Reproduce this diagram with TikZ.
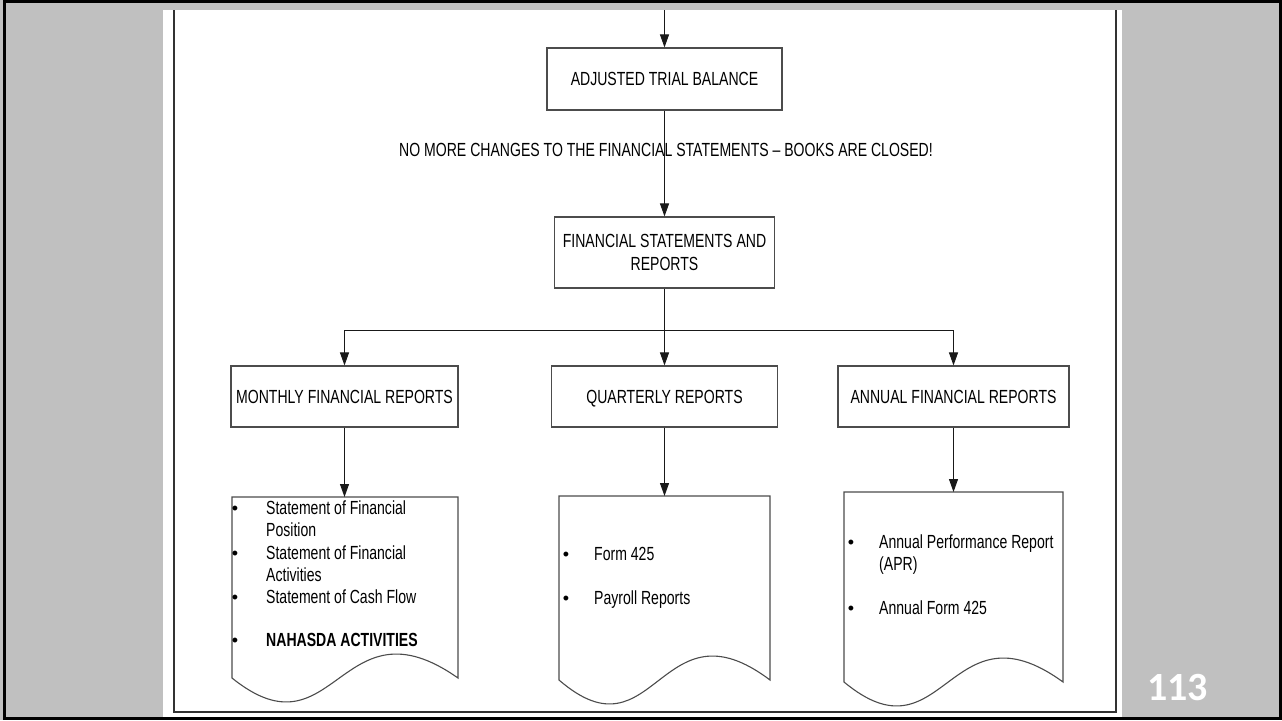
\documentclass[tikz,border=0pt]{standalone}
\usepackage{fontspec}
\usetikzlibrary{arrows.meta}
\newfontfamily\nar[FakeStretch=0.74]{Liberation Sans}
\newfontfamily\pgnumfont{Carlito}
\definecolor{slidegray}{RGB}{192,192,192}
\begin{document}
\begin{tikzpicture}[x=1pt,y=-1pt,
  conn/.style={draw=black!90,line width=1pt},
  arr/.style={conn,-{Triangle[length=13pt,width=9pt]}},
  stepbox/.style={draw=black!70,line width=1.1pt,fill=white,rectangle,inner sep=0pt,
     font=\nar\fontsize{19}{23}\selectfont,align=center},
  oneline/.style={text height=13.6pt,text depth=0pt},
  doc/.style={draw=black!70,line width=1.1pt,fill=white},
  doctext/.style={anchor=base west,inner sep=0pt,font=\nar\fontsize{19}{22}\selectfont,align=left},
  bul/.style={anchor=base,inner sep=0pt,font=\fontspec{Liberation Sans}\fontsize{18}{22}\selectfont},
  lbl/.style={inner sep=0pt,font=\nar\fontsize{19}{22}\selectfont}]
\useasboundingbox (0,0) rectangle (1282,720);
% slide background
\fill[slidegray] (0,0) rectangle (1282,720);
\draw[black,line width=3pt] (4.5,1.5) rectangle (1280.5,718.5);
\fill[white] (163,10) rectangle (1122,717);
\draw[black!80,line width=2pt] (173.5,10) -- (173.5,712) -- (1115.5,712) -- (1115.5,10);
% page number
\node[anchor=base,inner sep=0pt,text=white,font=\pgnumfont\bfseries\fontsize{40}{42}\selectfont] (pg) at (1177.5,700) {113};

% boxes
\node[stepbox,oneline,minimum width=235pt,minimum height=62pt] (atb) at (664.5,79) {ADJUSTED TRIAL BALANCE};
\node[stepbox,minimum width=220pt,minimum height=71pt] (fsr) at (664.5,252.5) {FINANCIAL STATEMENTS AND\\REPORTS};
\node[stepbox,oneline,minimum width=227pt,minimum height=61pt] (mon) at (344.5,396.5) {MONTHLY FINANCIAL REPORTS};
\node[stepbox,oneline,minimum width=226pt,minimum height=61pt] (qua) at (664.5,396.5) {QUARTERLY REPORTS};
\node[stepbox,oneline,minimum width=231pt,minimum height=61pt] (ann) at (953.5,396.5) {ANNUAL FINANCIAL REPORTS};

% documents
\draw[doc] (232,497) -- (458,497) -- (458,678)
  .. controls (340,595) and (335,761) .. (232,678) -- cycle;
\draw[doc] (559,496) -- (770,496) -- (770,680)
  .. controls (660,597) and (655,763) .. (559,680) -- cycle;
\draw[doc] (844,492) -- (1063,492) -- (1063,682)
  .. controls (949,599) and (944,765) .. (844,682) -- cycle;
\coordinate (mdoc) at (344.5,497);
\coordinate (qdoc) at (664.5,496);
\coordinate (adoc) at (953.5,492);

% connectors
\coordinate (top) at (664.5,10);
\coordinate (hl) at (0,330);
\draw[arr] (top) -- (atb.north);
\draw[arr] (atb.south) -- (fsr.north);
\draw[arr] (fsr.south) -- (qua.north);
\draw[arr] (fsr.south |- hl) -| (mon.north);
\draw[arr] (fsr.south |- hl) -| (ann.north);
\draw[arr] (mon.south) -- (mdoc);
\draw[arr] (qua.south) -- (qdoc);
\draw[arr] (ann.south) -- (adoc);

% note across the connector
\node[lbl] (note) at (666,150) {NO MORE CHANGES TO THE FINANCIAL STATEMENTS – BOOKS ARE CLOSED!};

% monthly doc text (base anchor = baseline of last line)
\node[bul] (mb1) at (235,514) {•};
\node[doctext] (mt1) at (266,536) {Statement of Financial\\Position};
\node[bul] (mb2) at (235,559) {•};
\node[doctext] (mt2) at (266,581) {Statement of Financial\\Activities};
\node[bul] (mb3) at (235,603) {•};
\node[doctext] (mt3) at (266,603) {Statement of Cash Flow};
\node[bul] (mb4) at (235,646) {•};
\node[doctext] (mt4) at (266,646) {\bfseries NAHASDA ACTIVITIES};

% quarterly doc text
\node[bul] (qb1) at (566,560) {•};
\node[doctext] (qt1) at (594,560) {Form 425};
\node[bul] (qb2) at (566,604) {•};
\node[doctext] (qt2) at (594,604) {Payroll Reports};

% annual doc text
\node[bul] (ab1) at (851,548) {•};
\node[doctext] (at1) at (879,570) {Annual Performance Report\\(APR)};
\node[bul] (ab2) at (851,614) {•};
\node[doctext] (at2) at (879,614) {Annual Form 425};
\end{tikzpicture}
\end{document}
